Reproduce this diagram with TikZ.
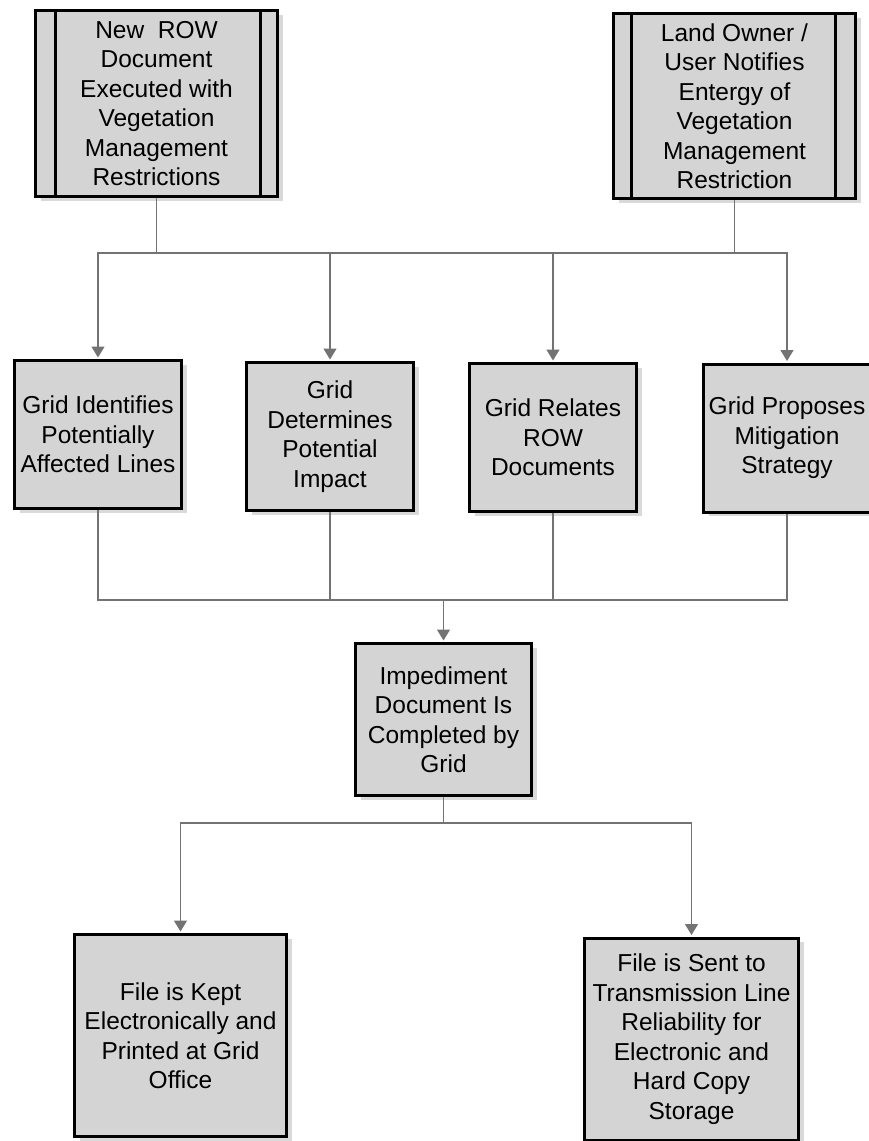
\documentclass[tikz,border=0pt]{standalone}
\usepackage{fontspec}
\setmainfont{Liberation Sans}
\usetikzlibrary{shadows,arrows.meta}

\begin{document}
\begin{tikzpicture}[x=1pt,y=-1pt,
    box/.style={draw=black,line width=3pt,fill=black!17,align=center,inner sep=0pt,
      font=\fontsize{24.5}{29.5}\selectfont,
      drop shadow={shadow xshift=5pt,shadow yshift=-4pt,opacity=.3}},
    wire/.style={draw=black!55,line width=1.4pt},
    tip/.style={-{Triangle[width=13pt,length=11pt]},shorten >=1.5pt}]
  \useasboundingbox (0,0) rectangle (868,1141);
  \coordinate (top) at (0,253);
  \coordinate (mid) at (0,600);
  \coordinate (low) at (0,823);
  % sources
  \node[box,minimum width=242pt,minimum height=186pt] (A0_0) at (156.5,103.5)
    {New\ \ ROW\\Document\\Executed with\\Vegetation\\Management\\Restrictions};
  \node[box,minimum width=242pt,minimum height=185pt] (A0_1) at (734.5,106)
    {Land Owner /\\User Notifies\\Entergy of\\Vegetation\\Management\\Restriction};
  \draw[line width=3pt] ([xshift=21pt]A0_0.north west) -- ([xshift=21pt]A0_0.south west);
  \draw[line width=3pt] ([xshift=-19pt]A0_0.north east) -- ([xshift=-19pt]A0_0.south east);
  \draw[line width=3pt] ([xshift=19pt]A0_1.north west) -- ([xshift=19pt]A0_1.south west);
  \draw[line width=3pt] ([xshift=-22pt]A0_1.north east) -- ([xshift=-22pt]A0_1.south east);
  % grid tasks
  \node[box,minimum width=167pt,minimum height=148pt] (A1_0) at (98,434.5)
    {Grid Identifies\\Potentially\\Affected Lines};
  \node[box,minimum width=167pt,minimum height=148pt] (A1_1) at (330,436.5)
    {Grid\\Determines\\Potential\\Impact};
  \node[box,minimum width=167pt,minimum height=148pt] (A1_2) at (553,437.5)
    {Grid Relates\\ROW\\Documents};
  \node[box,minimum width=167pt,minimum height=148pt] (A1_3) at (787,438)
    {Grid Proposes\\Mitigation\\Strategy};
  % impediment document
  \node[box,minimum width=176pt,minimum height=152pt] (A2_0) at (443.5,719.5)
    {Impediment\\Document Is\\Completed by\\Grid};
  % filing
  \node[box,minimum width=212pt,minimum height=202pt] (A3_0) at (180.5,1035.5)
    {File is Kept\\Electronically and\\Printed at Grid\\Office};
  \node[box,minimum width=214pt,minimum height=202pt] (A3_1) at (691.5,1039)
    {File is Sent to\\Transmission Line\\Reliability for\\Electronic and\\Hard Copy\\Storage};
  % connectors
  \draw[wire] (A0_0.south |- top) -- (A0_1.south |- top);
  \draw[wire,tip] (A0_0.south) |- (A1_0.north |- top) -- (A1_0.north);
  \draw[wire,tip] (A0_0.south) |- (A1_1.north |- top) -- (A1_1.north);
  \draw[wire,tip] (A0_1.south) |- (A1_2.north |- top) -- (A1_2.north);
  \draw[wire,tip] (A0_1.south) |- (A1_3.north |- top) -- (A1_3.north);
  \draw[wire] (A1_0.south) |- (A1_3.south |- mid) -- (A1_3.south);
  \draw[wire] (A1_1.south) -- (A1_1.south |- mid);
  \draw[wire] (A1_2.south) -- (A1_2.south |- mid);
  \draw[wire,tip] (A2_0.north |- mid) -- (A2_0.north);
  \draw[wire,tip] (A2_0.south) |- (A3_0.north |- low) -- (A3_0.north);
  \draw[wire,tip] (A2_0.south) |- (A3_1.north |- low) -- (A3_1.north);
\end{tikzpicture}
\end{document}
